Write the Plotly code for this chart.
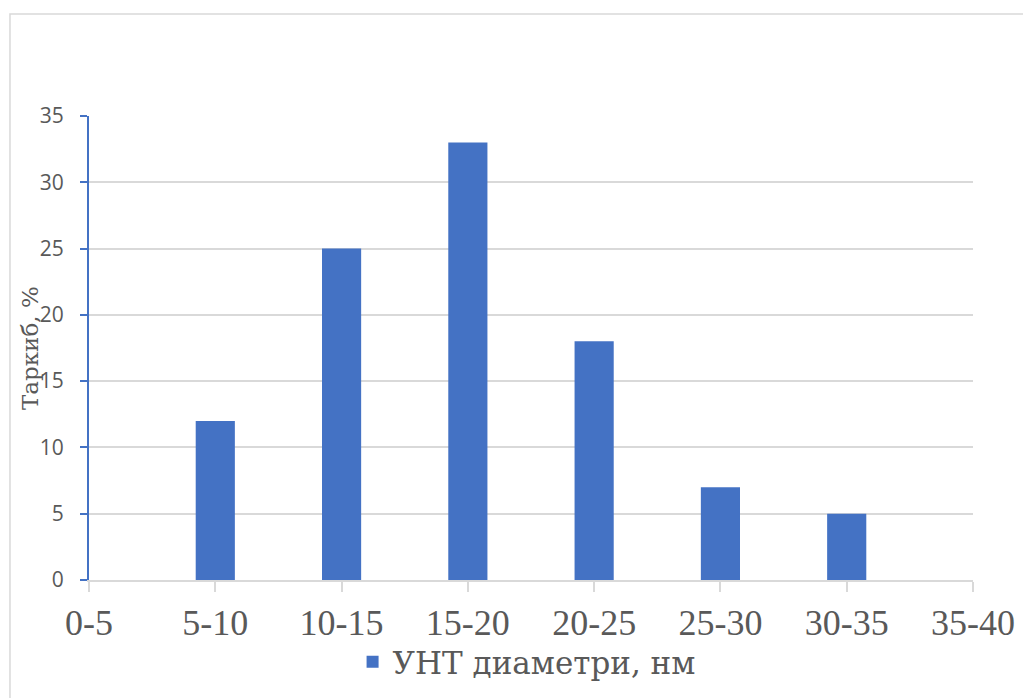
import plotly.graph_objects as go

# Diameter ranges of the nanotubes and their share in the sample
diameter_bins = ["0-5", "5-10", "10-15", "15-20", "20-25", "25-30", "30-35", "35-40"]
share_percent = [0, 12, 25, 33, 18, 7, 5, 0]
y_ticks = [0, 5, 10, 15, 20, 25, 30, 35]

series_name = "УНТ диаметри, нм"
y_title = "Таркиб, %"

BAR_BLUE = "#4472c4"
GRID_GREY = "#d9d9d9"
TEXT_GREY = "#595959"
SERIF = "Liberation Serif"
SERIF_CYR = "DejaVu Serif"
SANS = "Open Sans, Noto Sans, sans-serif"

fig = go.Figure()
fig.add_trace(go.Bar(
    x=diameter_bins,
    y=share_percent,
    name=series_name,
    marker=dict(color=BAR_BLUE, line=dict(width=0)),
    showlegend=True,
))

fig.update_layout(
    width=1023,
    height=698,
    margin=dict(l=89, r=50, t=116, b=118, autoexpand=False),
    paper_bgcolor="white",
    plot_bgcolor="white",
    bargap=0.69,
    showlegend=True,
    legend=dict(
        orientation="h",
        x=0.495, xanchor="center",
        y=-0.177, yanchor="middle",
        font=dict(family=SERIF_CYR, size=31, color=TEXT_GREY),
        bgcolor="rgba(0,0,0,0)",
    ),
    xaxis=dict(
        type="category",
        categoryorder="array",
        categoryarray=diameter_bins,
        range=[0, 7],
        showgrid=False,
        zeroline=False,
        showline=True,
        linecolor=GRID_GREY,
        linewidth=1.5,
        ticks="outside",
        ticklen=10,
        tickwidth=1.5,
        tickcolor=GRID_GREY,
        tickfont=dict(family=SERIF, size=36, color=TEXT_GREY),
        automargin=False,
    ),
    yaxis=dict(
        range=[0, 35],
        tickvals=y_ticks,
        showgrid=True,
        gridcolor=GRID_GREY,
        gridwidth=1.5,
        zeroline=False,
        showline=True,
        linecolor=BAR_BLUE,
        linewidth=2,
        ticks="outside",
        ticklen=7,
        tickwidth=2,
        tickcolor=BAR_BLUE,
        ticklabelstandoff=12,
        tickfont=dict(family=SANS, size=21, color=TEXT_GREY),
        automargin=False,
    ),
    annotations=[
        # y-axis title, set close to the tick labels
        dict(text=y_title, xref="paper", yref="paper",
             x=-0.0667, y=0.5, xanchor="center", yanchor="middle",
             textangle=-90, showarrow=False,
             font=dict(family=SERIF_CYR, size=23, color=TEXT_GREY)),
    ],
    shapes=[
        # chart area frame
        dict(type="rect", xref="paper", yref="paper",
             x0=-0.0894, x1=1.2, y0=-0.4, y1=1.2198,
             line=dict(color=GRID_GREY, width=1.5),
             fillcolor="rgba(0,0,0,0)", layer="below"),
    ],
)

fig.write_html("out.html")
